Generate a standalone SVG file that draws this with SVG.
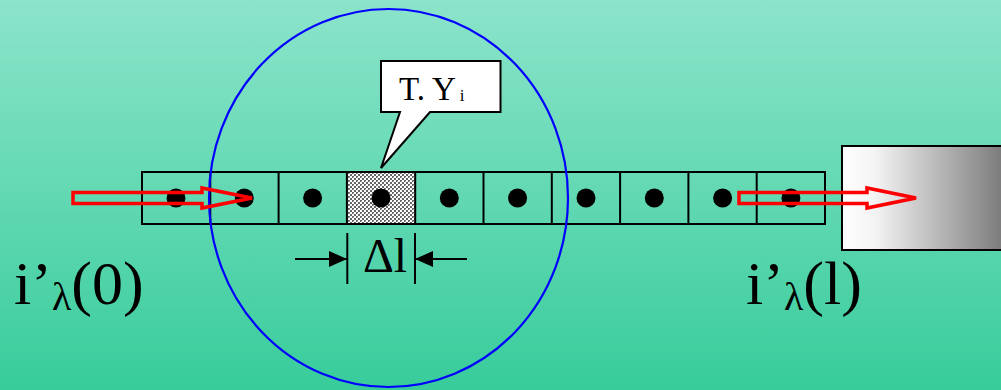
<svg xmlns="http://www.w3.org/2000/svg" width="1001" height="390" viewBox="0 0 1001 390">
<defs>
<linearGradient id="bg" x1="0" y1="0" x2="0" y2="1">
<stop offset="0" stop-color="#8ce4ca"/>
<stop offset="1" stop-color="#38cc9b"/>
</linearGradient>
<linearGradient id="box" x1="0" y1="0" x2="1" y2="0">
<stop offset="0" stop-color="#ffffff"/>
<stop offset="0.2" stop-color="#f4f4f4"/>
<stop offset="1" stop-color="#7a7a7a"/>
</linearGradient>
<pattern id="hatch" width="4" height="4" patternUnits="userSpaceOnUse">
<rect width="4" height="4" fill="#ffffff"/>
<rect x="0" y="0" width="2" height="2" fill="#666"/>
<rect x="2" y="2" width="2" height="2" fill="#666"/>
<rect x="1" y="1" width="1" height="1" fill="#aaa"/>
</pattern>
<marker id="ah" viewBox="0 0 18 16" refX="18" refY="8" markerWidth="18" markerHeight="16" markerUnits="userSpaceOnUse" orient="auto">
<path d="M0,0 L18,8 L0,16 Z" fill="#000"/>
</marker>
<style>
.cell{fill:none;stroke:#000;stroke-width:2}
.dot{fill:#000}
.red{fill:none;stroke:#ff0000;stroke-width:3.5;stroke-linejoin:miter}
.tm{font-family:"Liberation Serif","Times New Roman",serif;fill:#000}
.dim{stroke:#000;stroke-width:2;fill:none}
</style>
</defs>
<rect width="1001" height="390" fill="url(#bg)"/>

<g id="strip">
<rect x="347" y="172" width="68.3" height="52" fill="url(#hatch)"/>
<rect class="cell" x="142" y="172" width="683" height="52"/>
<path class="cell" d="M210.3,172V224M278.6,172V224M346.9,172V224M415.2,172V224M483.5,172V224M551.8,172V224M620.1,172V224M688.4,172V224M756.7,172V224"/>
<circle class="dot" cx="176" cy="198" r="9.5"/>
<circle class="dot" cx="244.3" cy="198" r="9.5"/>
<circle class="dot" cx="312.6" cy="198" r="9.5"/>
<circle class="dot" cx="381" cy="198" r="9.5"/>
<circle class="dot" cx="449.3" cy="198" r="9.5"/>
<circle class="dot" cx="517.6" cy="198" r="9.5"/>
<circle class="dot" cx="586" cy="198" r="9.5"/>
<circle class="dot" cx="654.3" cy="198" r="9.5"/>
<circle class="dot" cx="722.6" cy="198" r="9.5"/>
<circle class="dot" cx="790.9" cy="198" r="9.5"/>
</g>

<g id="detector">
<rect x="842" y="146" width="162" height="104" fill="url(#box)" stroke="#000" stroke-width="2"/>
</g>

<g id="region">
<ellipse cx="388.5" cy="198" rx="179.5" ry="189" fill="none" stroke="#0000ff" stroke-width="2.2"/>
</g>

<g id="callout">
<path d="M381,61 H500.5 V112 H430 L381,168 L400,112 H381 Z" fill="#fff" stroke="#000" stroke-width="2"/>
<text class="tm" x="399" y="100" font-size="33">T. Y<tspan font-size="17" dx="4" dy="1">i</tspan></text>
</g>

<g id="connectors">
<path class="red" d="M73,192.5 H202 V188 L252,198 L202,208 V203.5 H73 Z"/>
<path class="red" d="M739,192.5 H867 V188 L916,198 L867,208 V203.5 H739 Z"/>
<path class="dim" d="M347.3,233 V284 M415,233 V284"/>
<path class="dim" d="M295,259 H347" marker-end="url(#ah)"/>
<path class="dim" d="M467,259 H415" marker-end="url(#ah)"/>
</g>

<g id="labels">
<text class="tm" x="363" y="272" font-size="48">Δl</text>
<text class="tm" x="14" y="304" font-size="62">i’<tspan font-size="40" dy="6">λ</tspan><tspan dy="-6">(0)</tspan></text>
<text class="tm" x="746" y="304" font-size="62">i’<tspan font-size="40" dy="6">λ</tspan><tspan dy="-6">(l)</tspan></text>
</g>
</svg>
